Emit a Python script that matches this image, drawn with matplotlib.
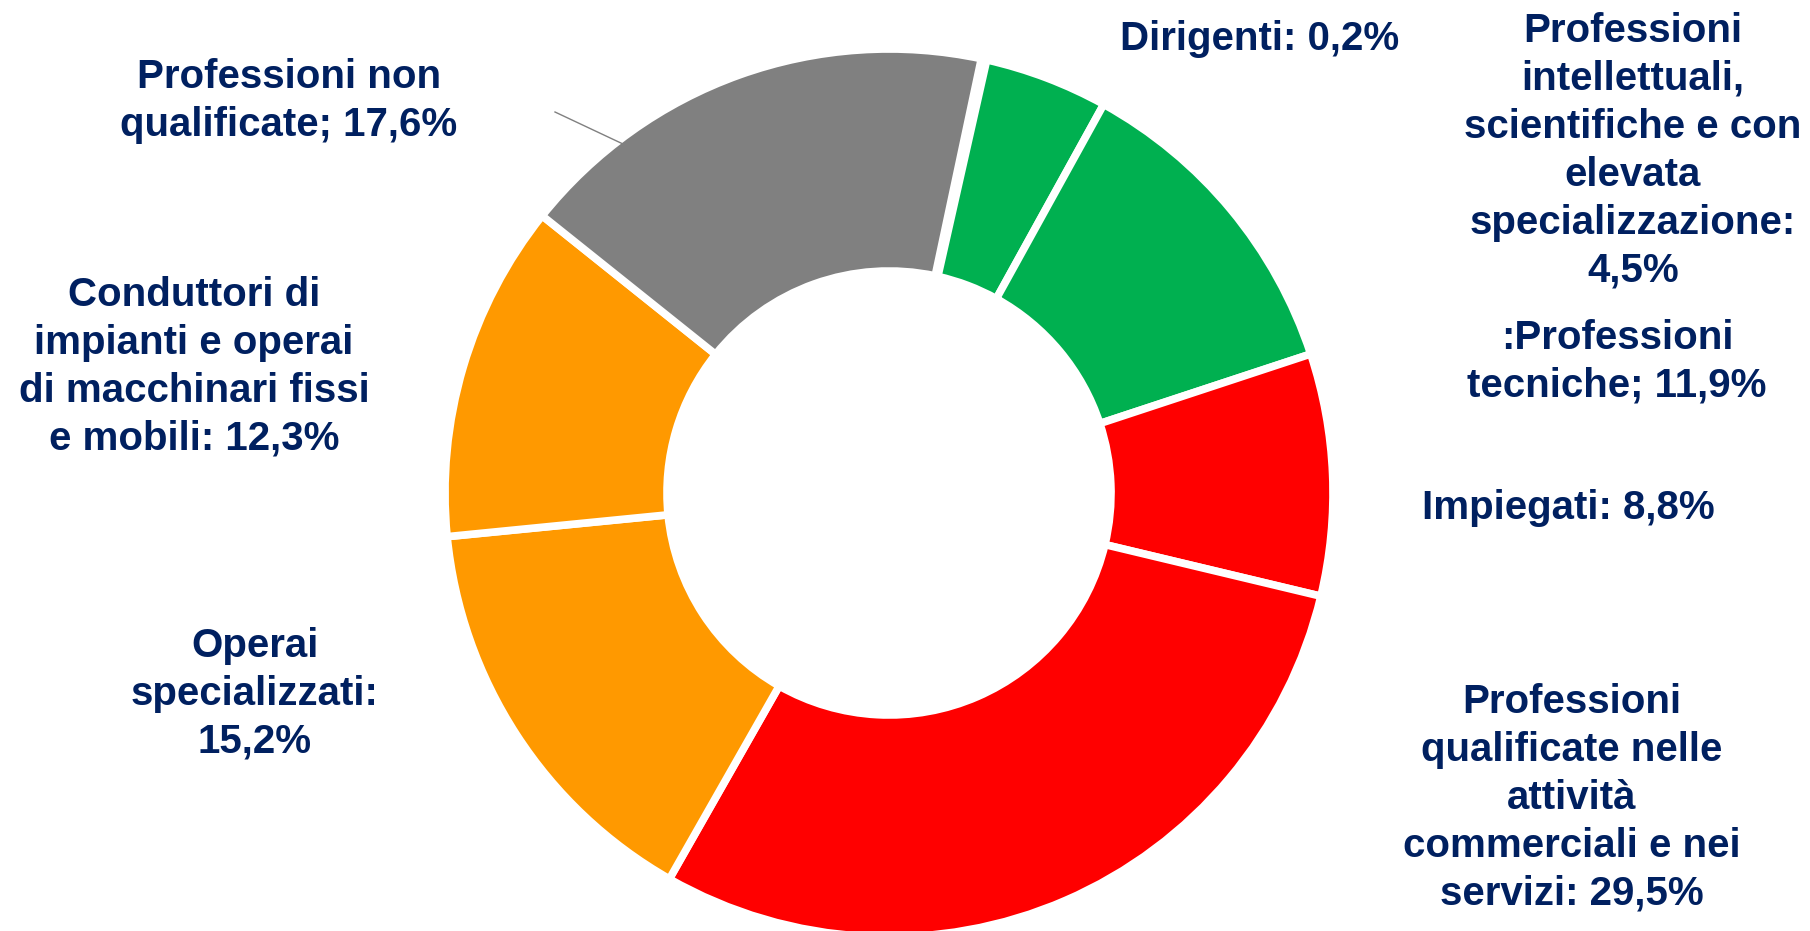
import matplotlib
matplotlib.use("Agg")
import matplotlib.pyplot as plt

# Data (clockwise from the top)
categories = [
    "Dirigenti",
    "Professioni intellettuali, scientifiche e con elevata specializzazione",
    "Professioni tecniche",
    "Impiegati",
    "Professioni qualificate nelle attività commerciali e nei servizi",
    "Operai specializzati",
    "Conduttori di impianti e operai di macchinari fissi e mobili",
    "Professioni non qualificate",
]
values = [0.2, 4.5, 11.9, 8.8, 29.5, 15.2, 12.3, 17.6]
slice_colors = ["#00B050", "#00B050", "#00B050", "#FF0000", "#FF0000",
                "#FF9900", "#FF9900", "#808080"]
label_texts = [
    "Dirigenti: 0,2%",
    "Professioni\nintellettuali,\nscientifiche e con\nelevata\nspecializzazione:\n4,5%",
    ":Professioni\ntecniche; 11,9%",
    "Impiegati: 8,8%",
    "Professioni\nqualificate nelle\nattività\ncommerciali e nei\nservizi: 29,5%",
    "Operai\nspecializzati:\n15,2%",
    "Conduttori di\nimpianti e operai\ndi macchinari fissi\ne mobili: 12,3%",
    "Professioni non\nqualificate; 17,6%",
]

W, H = 1810, 931
fig = plt.figure(figsize=(W / 100, H / 100), dpi=100)
ax = fig.add_axes([0, 0, 1, 1])

cx, cy, R = 889, H - 493, 444
ax.pie(values, colors=slice_colors, startangle=78, counterclock=False,
       radius=R, center=(cx, cy),
       wedgeprops=dict(width=222, edgecolor="white", linewidth=5.5))
ax.set_xlim(0, W)
ax.set_ylim(0, H)
ax.set_aspect("equal")
ax.axis("off")

# label anchor positions (pixel, from top: center x, top of first line)
label_pos = [
    (1260, 20),
    (1633, 12),
    (1617, 319),
    (1568, 489),
    (1572, 683),
    (255, 627),
    (194, 276),
    (289, 58),
]
for txt, (x, y) in zip(label_texts, label_pos):
    ax.text(x, H - y, txt, ha="center", va="top", multialignment="center",
            fontsize=29, fontweight="bold", family="Liberation Sans",
            color="#002060", linespacing=1.33)

# leader line for "Professioni non qualificate"
ax.plot([555, 623], [H - 112, H - 144], color="#808080", lw=1)

fig.savefig("out.png", dpi=100, facecolor="white")
